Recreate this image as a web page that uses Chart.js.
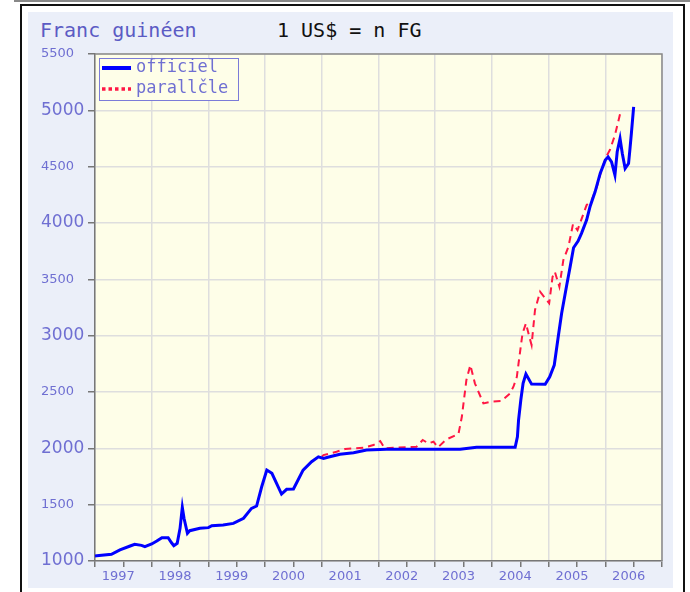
<!DOCTYPE html>
<html>
<head>
<meta charset="utf-8">
<script src="https://cdn.jsdelivr.net/npm/chart.js@4/dist/chart.umd.min.js"></script>
<style>
  body { margin: 0; background: #fff; width: 690px; height: 592px; overflow: hidden; position: relative; }
  #topline { position: absolute; left: 14px; top: 0; width: 676px; height: 2px; background: #888; }
  #frame { position: absolute; left: 20px; top: 4px; width: 661px; height: 600px; border: 2px solid #111; }
  #panel { position: absolute; left: 28px; top: 12px; width: 645px; height: 576px; background: #ebeff9; }
  .ttl { position: absolute; top: 18px; font: 20px "DejaVu Sans Mono", monospace; white-space: pre; }
  #t1 { left: 40px; color: #5b5bc4; }
  #t2 { left: 277px; color: #111; }
  canvas { position: absolute; left: 0; top: 0; }
</style>
</head>
<body>
<div id="topline"></div>
<div id="frame"></div>
<div id="panel"></div>
<div class="ttl" id="t1">Franc guinéen</div>
<div class="ttl" id="t2">1 US$ = n FG</div>
<canvas id="chart" width="690" height="592"></canvas>
<script>
// cours officiel
const offYears = [1997.00, 1997.03, 1997.29, 1997.44, 1997.62, 1997.70, 1997.82, 1997.88, 1998.00, 1998.09,
  1998.18, 1998.29, 1998.35, 1998.39, 1998.45, 1998.50, 1998.54, 1998.57, 1998.63, 1998.67,
  1998.85, 1999.00, 1999.06, 1999.26, 1999.44, 1999.62, 1999.76, 1999.85, 1999.94, 2000.03,
  2000.12, 2000.29, 2000.38, 2000.50, 2000.67, 2000.82, 2000.94, 2001.03, 2001.14, 2001.32,
  2001.56, 2001.79, 2002.14, 2003.44, 2003.73, 2004.41, 2004.45, 2004.47, 2004.51, 2004.55,
  2004.60, 2004.70, 2004.94, 2005.02, 2005.10, 2005.17, 2005.23, 2005.32, 2005.38, 2005.44,
  2005.52, 2005.58, 2005.67, 2005.73, 2005.82, 2005.91, 2006.00, 2006.05, 2006.11, 2006.17,
  2006.21, 2006.26, 2006.30, 2006.35, 2006.41, 2006.43, 2006.46, 2006.50];
const offRates = [1045, 1047, 1059, 1098, 1133, 1148, 1139, 1127, 1151, 1177,
  1207, 1207, 1162, 1136, 1157, 1290, 1476, 1379, 1246, 1269,
  1290, 1296, 1313, 1319, 1334, 1379, 1467, 1488, 1659, 1807,
  1778, 1594, 1636, 1639, 1807, 1881, 1925, 1911, 1925, 1947,
  1961, 1985, 1991, 1991, 2009, 2009, 2103, 2251, 2429, 2577,
  2659, 2570, 2568, 2635, 2739, 2990, 3198, 3450, 3611, 3780,
  3840, 3908, 4026, 4144, 4277, 4440, 4558, 4587, 4543, 4425,
  4632, 4750, 4617, 4484, 4528, 4632, 4795, 5031];

// cours parallèle
const parYears = [2001.00, 2001.03, 2001.26, 2001.41, 2001.73, 2001.91, 2002.03, 2002.11, 2002.26, 2002.67,
  2002.78, 2002.88, 2002.97, 2003.05, 2003.20, 2003.41, 2003.47, 2003.55, 2003.62, 2003.70,
  2003.85, 2003.97, 2004.17, 2004.32, 2004.38, 2004.44, 2004.47, 2004.54, 2004.60, 2004.66,
  2004.70, 2004.76, 2004.85, 2005.01, 2005.07, 2005.11, 2005.19, 2005.26, 2005.35, 2005.43,
  2005.51, 2005.67, 2005.76, 2005.85, 2005.94, 2006.03, 2006.08, 2006.17, 2006.27];
const parRates = [1925, 1940, 1970, 1994, 2005, 2029, 2065, 2000, 2005, 2014,
  2074, 2044, 2059, 2009, 2080, 2127, 2280, 2606, 2739, 2577,
  2399, 2413, 2420, 2488, 2547, 2635, 2754, 3020, 3109, 2990,
  2917, 3227, 3390, 3287, 3523, 3567, 3434, 3671, 3790, 3990,
  3937, 4159, 4203, 4321, 4484, 4602, 4647, 4780, 4987];

const seriesLabels = ['officiel', 'parallčle'];
const labelColor = '#6f6fd2';

const toPoints = (xs, ys) => xs.map((x, i) => ({ x: x, y: ys[i] }));

// fond jaune + cadre du graphe
const plotBg = {
  id: 'plotBg',
  beforeDraw(chart) {
    const { ctx, chartArea: a } = chart;
    ctx.save();
    ctx.fillStyle = '#fefee8';
    ctx.fillRect(a.left, a.top, a.right - a.left, a.bottom - a.top);
    ctx.restore();
  },
  afterDraw(chart) {
    const { ctx, chartArea: a } = chart;
    ctx.save();
    ctx.strokeStyle = '#8a8a8a';
    ctx.lineWidth = 1.5;
    ctx.beginPath();
    ctx.moveTo(a.left, a.top);
    ctx.lineTo(a.right, a.top);
    ctx.lineTo(a.right, a.bottom);
    ctx.stroke();
    ctx.restore();
  }
};

// légende dans un cadre en haut à gauche
const boxLegend = {
  id: 'boxLegend',
  afterDraw(chart) {
    const { ctx, chartArea: a } = chart;
    const x = a.left + 4, y = a.top + 4;
    ctx.save();
    ctx.fillStyle = '#fefee8';
    ctx.fillRect(x, y, 139, 42);
    ctx.strokeStyle = '#7b7bd8';
    ctx.lineWidth = 1;
    ctx.strokeRect(x + 0.5, y + 0.5, 139, 42);
    ctx.font = '17px "DejaVu Sans Mono", monospace';
    ctx.textBaseline = 'middle';
    chart.data.datasets.forEach((ds, i) => {
      const ly = y + 10 + i * 21;
      ctx.strokeStyle = ds.borderColor;
      ctx.lineWidth = i === 0 ? 4 : 3.5;
      ctx.setLineDash(i === 0 ? [] : [3.5, 3]);
      ctx.beginPath();
      ctx.moveTo(x + 3, ly);
      ctx.lineTo(x + 32, ly);
      ctx.stroke();
      ctx.setLineDash([]);
      ctx.fillStyle = labelColor;
      ctx.fillText(ds.label, x + 37, ly);
    });
    ctx.restore();
  }
};

const chart = new Chart(document.getElementById('chart').getContext('2d'), {
  type: 'line',
  data: {
    datasets: [{
      label: seriesLabels[0],
      data: toPoints(offYears, offRates),
      borderColor: '#0000ff',
      borderWidth: 3,
      pointRadius: 0,
      tension: 0
    }, {
      label: seriesLabels[1],
      data: toPoints(parYears, parRates),
      borderColor: '#ff1744',
      borderWidth: 2,
      borderDash: [7, 5],
      pointRadius: 0,
      tension: 0
    }]
  },
  plugins: [plotBg, boxLegend],
  options: {
    responsive: false,
    animation: false,
    layout: { padding: { left: 41, top: 54, right: 28, bottom: 5 } },
    plugins: {
      legend: { display: false },
      tooltip: { enabled: false }
    },
    scales: {
      x: {
        type: 'linear',
        min: 1997,
        max: 2007,
        afterFit: (s) => { s.height = 26; },
        border: { color: '#777', width: 1.5 },
        grid: {
          color: (c) => (c.tick && c.tick.value % 1 === 0 ? '#dedede' : 'rgba(0,0,0,0)'),
          tickColor: '#777',
          lineWidth: 1.5,
          tickLength: 6
        },
        ticks: {
          stepSize: 0.5,
          autoSkip: false,
          maxRotation: 0,
          padding: 2,
          labelOffset: -5,
          color: labelColor,
          font: { family: '"DejaVu Sans", Verdana, sans-serif', size: 13 },
          // année au milieu de l'intervalle
          callback: (v) => (v % 1 === 0.5 ? String(Math.floor(v)) : '')
        }
      },
      y: {
        min: 1000,
        max: 5500,
        afterFit: (s) => { s.width = 54; },
        border: { color: '#777', width: 1.5 },
        grid: {
          color: '#dedede',
          tickColor: '#777',
          lineWidth: 1.5,
          tickLength: 7
        },
        ticks: {
          stepSize: 500,
          crossAlign: 'far',
          color: labelColor,
          callback: (v) => String(v),
          font: (c) => ({
            family: '"DejaVu Sans", Verdana, sans-serif',
            size: c.tick && c.tick.value % 1000 === 0 ? 17 : 13
          })
        }
      }
    }
  }
});
</script>
</body>
</html>
